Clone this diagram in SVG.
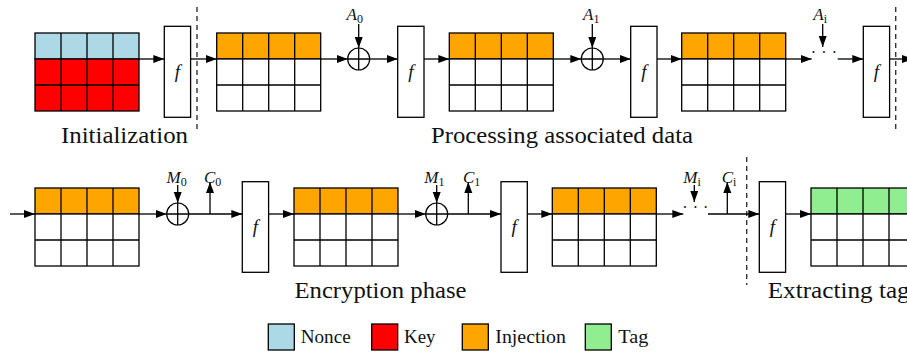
<svg xmlns="http://www.w3.org/2000/svg" width="907" height="356" viewBox="0 0 907 356">
<style>
.cell{stroke:#000;stroke-width:1.3}
.ln{stroke:#000;stroke-width:1.3;fill:none}
.fbox{fill:#fff;stroke:#000;stroke-width:1.3}
.xor{fill:#fff;stroke:#000;stroke-width:1.2}
.conn{stroke:#000;stroke-width:1.3;fill:none}
.dash{stroke:#333;stroke-width:1.4;stroke-dasharray:5,4;fill:none}
.nonce{fill:#ADD8E6}.key{fill:#FF0000}.inj{fill:#FFA500}.tag{fill:#90EE90}.wh{fill:#fff}
text{font-family:'Liberation Serif',serif;fill:#111}
.big{font-size:23px}
.lg{font-size:19px}
.f{font-size:19px;font-style:italic;text-anchor:middle}
.var{font-size:17px}
.sub{font-size:12px;font-style:normal}
.dots{font-size:16px;text-anchor:middle}
</style>
<defs>
<marker id="arr" markerUnits="userSpaceOnUse" markerWidth="12" markerHeight="9" refX="11" refY="4" orient="auto">
<path d="M0,0 L11,4 L0,8 z" fill="#000"/>
</marker>
</defs>

<g id="separators">
<line class="dash" x1="197" y1="7" x2="197" y2="130"/>
<line class="dash" x1="895.7" y1="7" x2="895.7" y2="130"/>
<line class="dash" x1="746.7" y1="157" x2="746.7" y2="285"/>
</g>

<g id="connectors">
<line class="conn" x1="139" y1="59" x2="164.3" y2="59" marker-end="url(#arr)"/>
<line class="conn" x1="190.7" y1="59" x2="216.7" y2="59" marker-end="url(#arr)"/>
<line class="conn" x1="320.7" y1="59" x2="347.7" y2="59" marker-end="url(#arr)"/>
<line class="conn" x1="369.7" y1="59" x2="397.7" y2="59" marker-end="url(#arr)"/>
<line class="conn" x1="424" y1="59" x2="449.3" y2="59" marker-end="url(#arr)"/>
<line class="conn" x1="553.3" y1="59" x2="581.3" y2="59" marker-end="url(#arr)"/>
<line class="conn" x1="603.3" y1="59" x2="630.7" y2="59" marker-end="url(#arr)"/>
<line class="conn" x1="657" y1="59" x2="681.7" y2="59" marker-end="url(#arr)"/>
<line class="conn" x1="785.7" y1="59" x2="811.7" y2="59" marker-end="url(#arr)"/>
<line class="conn" x1="837.7" y1="59" x2="863.3" y2="59" marker-end="url(#arr)"/>
<line class="conn" x1="889.6" y1="59" x2="913" y2="59" marker-end="url(#arr)"/>
<line class="conn" x1="358.7" y1="24" x2="358.7" y2="48" marker-end="url(#arr)"/>
<line class="conn" x1="592.3" y1="24" x2="592.3" y2="48" marker-end="url(#arr)"/>
<line class="conn" x1="822.7" y1="24" x2="822.7" y2="47" marker-end="url(#arr)"/>
<line class="conn" x1="10" y1="214" x2="35" y2="214" marker-end="url(#arr)"/>
<line class="conn" x1="139" y1="214" x2="166.7" y2="214" marker-end="url(#arr)"/>
<line class="conn" x1="188.7" y1="214" x2="242.3" y2="214" marker-end="url(#arr)"/>
<line class="conn" x1="268.6" y1="214" x2="294" y2="214" marker-end="url(#arr)"/>
<line class="conn" x1="398" y1="214" x2="425.7" y2="214" marker-end="url(#arr)"/>
<line class="conn" x1="447.7" y1="214" x2="501" y2="214" marker-end="url(#arr)"/>
<line class="conn" x1="527.3" y1="214" x2="552.3" y2="214" marker-end="url(#arr)"/>
<line class="conn" x1="656.3" y1="214" x2="683.3" y2="214" marker-end="url(#arr)"/>
<line class="conn" x1="708" y1="214" x2="759.3" y2="214" marker-end="url(#arr)"/>
<line class="conn" x1="785.7" y1="214" x2="811" y2="214" marker-end="url(#arr)"/>
<line class="conn" x1="177.7" y1="185" x2="177.7" y2="203" marker-end="url(#arr)"/>
<line class="conn" x1="436.7" y1="185" x2="436.7" y2="203" marker-end="url(#arr)"/>
<line class="conn" x1="694.3" y1="185" x2="694.3" y2="202" marker-end="url(#arr)"/>
<line class="conn" x1="210" y1="214" x2="210" y2="182" marker-end="url(#arr)"/>
<line class="conn" x1="468.3" y1="214" x2="468.3" y2="182" marker-end="url(#arr)"/>
<line class="conn" x1="727.3" y1="214" x2="727.3" y2="182" marker-end="url(#arr)"/>
</g>

<g id="state-init">
<rect class="cell nonce" x="35" y="33" width="104" height="26"/>
<rect class="cell key" x="35" y="59" width="104" height="52"/>
<path class="ln" d="M61,33V111M87,33V111M113,33V111M35,85H139"/>
</g>
<g id="state-a0">
<rect class="cell inj" x="216.7" y="33" width="104" height="26"/>
<rect class="cell wh" x="216.7" y="59" width="104" height="52"/>
<path class="ln" d="M242.7,33V111M268.7,33V111M294.7,33V111M216.7,85H320.7"/>
</g>
<g id="state-a1">
<rect class="cell inj" x="449.3" y="33" width="104" height="26"/>
<rect class="cell wh" x="449.3" y="59" width="104" height="52"/>
<path class="ln" d="M475.3,33V111M501.3,33V111M527.3,33V111M449.3,85H553.3"/>
</g>
<g id="state-a2">
<rect class="cell inj" x="681.7" y="33" width="104" height="26"/>
<rect class="cell wh" x="681.7" y="59" width="104" height="52"/>
<path class="ln" d="M707.7,33V111M733.7,33V111M759.7,33V111M681.7,85H785.7"/>
</g>

<g id="f-top-1"><rect class="fbox" x="164.3" y="26.3" width="26.3" height="91"/><text class="f" x="177.5" y="78">f</text></g>
<g id="f-top-2"><rect class="fbox" x="397.7" y="26.3" width="26.3" height="91"/><text class="f" x="410.8" y="78">f</text></g>
<g id="f-top-3"><rect class="fbox" x="630.7" y="26.3" width="26.3" height="91"/><text class="f" x="643.8" y="78">f</text></g>
<g id="f-top-4"><rect class="fbox" x="863.3" y="26.3" width="26.3" height="91"/><text class="f" x="876.4" y="78">f</text></g>

<g id="xor-a0"><circle class="xor" cx="358.7" cy="59" r="11"/><path class="ln" stroke-width="1" d="M347.7,59H369.7M358.7,48V70"/></g>
<g id="xor-a1"><circle class="xor" cx="592.3" cy="59" r="11"/><path class="ln" stroke-width="1" d="M581.3,59H603.3M592.3,48V70"/></g>
<g id="dots-a"><text class="dots" x="813.3 824 834.5" y="58">···</text></g>

<g id="labels-top">
<text class="var" x="346.5" y="19.5"><tspan font-style="italic">A</tspan><tspan class="sub" dy="3.5">0</tspan></text>
<text class="var" x="583" y="19.5"><tspan font-style="italic">A</tspan><tspan class="sub" dy="3.5">1</tspan></text>
<text class="var" x="813.3" y="19.5"><tspan font-style="italic">A</tspan><tspan class="sub" dy="3.5" font-style="italic">i</tspan></text>
<text class="big" x="61" y="143" textLength="127" lengthAdjust="spacingAndGlyphs">Initialization</text>
<text class="big" x="431" y="143" textLength="262" lengthAdjust="spacingAndGlyphs" font-family="DejaVu Serif">Processing associated data</text>
</g>

<g id="state-m0">
<rect class="cell inj" x="35" y="188" width="104" height="26"/>
<rect class="cell wh" x="35" y="214" width="104" height="52"/>
<path class="ln" d="M61,188V266M87,188V266M113,188V266M35,240H139"/>
</g>
<g id="state-m1">
<rect class="cell inj" x="294" y="188" width="104" height="26"/>
<rect class="cell wh" x="294" y="214" width="104" height="52"/>
<path class="ln" d="M320,188V266M346,188V266M372,188V266M294,240H398"/>
</g>
<g id="state-m2">
<rect class="cell inj" x="552.3" y="188" width="104" height="26"/>
<rect class="cell wh" x="552.3" y="214" width="104" height="52"/>
<path class="ln" d="M578.3,188V266M604.3,188V266M630.3,188V266M552.3,240H656.3"/>
</g>
<g id="state-tag">
<rect class="cell tag" x="811" y="188" width="104" height="26"/>
<rect class="cell wh" x="811" y="214" width="104" height="52"/>
<path class="ln" d="M837,188V266M863,188V266M889,188V266M811,240H915"/>
</g>

<g id="f-bot-1"><rect class="fbox" x="242.3" y="181.7" width="26.3" height="90.6"/><text class="f" x="255.4" y="233">f</text></g>
<g id="f-bot-2"><rect class="fbox" x="501" y="181.7" width="26.3" height="90.6"/><text class="f" x="514.1" y="233">f</text></g>
<g id="f-bot-3"><rect class="fbox" x="759.3" y="181.7" width="26.3" height="90.6"/><text class="f" x="772.4" y="233">f</text></g>

<g id="xor-m0"><circle class="xor" cx="177.7" cy="214" r="11"/><path class="ln" stroke-width="1" d="M166.7,214H188.7M177.7,203V225"/></g>
<g id="xor-m1"><circle class="xor" cx="436.7" cy="214" r="11"/><path class="ln" stroke-width="1" d="M425.7,214H447.7M436.7,203V225"/></g>
<g id="dots-m"><text class="dots" x="685 695.3 705.7" y="213">···</text></g>

<g id="labels-bottom">
<text class="var" x="166.5" y="182.5"><tspan font-style="italic">M</tspan><tspan class="sub" dy="3.5">0</tspan></text>
<text class="var" x="204" y="182.5"><tspan font-style="italic">C</tspan><tspan class="sub" dy="3.5">0</tspan></text>
<text class="var" x="424.3" y="182.5"><tspan font-style="italic">M</tspan><tspan class="sub" dy="3.5">1</tspan></text>
<text class="var" x="463" y="182.5"><tspan font-style="italic">C</tspan><tspan class="sub" dy="3.5">1</tspan></text>
<text class="var" x="683.3" y="182.5"><tspan font-style="italic">M</tspan><tspan class="sub" dy="3.5" font-style="italic">i</tspan></text>
<text class="var" x="721.7" y="182.5"><tspan font-style="italic">C</tspan><tspan class="sub" dy="3.5" font-style="italic">i</tspan></text>
<text class="big" x="294.5" y="298" textLength="172" lengthAdjust="spacingAndGlyphs">Encryption phase</text>
<text class="big" x="767.7" y="298" textLength="142" lengthAdjust="spacingAndGlyphs">Extracting tag</text>
</g>

<g id="legend">
<rect class="cell nonce" x="268.3" y="324" width="26" height="26"/>
<text class="lg" x="300.7" y="343" textLength="50" lengthAdjust="spacingAndGlyphs">Nonce</text>
<rect class="cell key" x="371.7" y="324" width="26" height="26"/>
<text class="lg" x="404" y="343" textLength="31.5" lengthAdjust="spacingAndGlyphs">Key</text>
<rect class="cell inj" x="462.3" y="324" width="26" height="26"/>
<text class="lg" x="495.3" y="343" textLength="70.5" lengthAdjust="spacingAndGlyphs">Injection</text>
<rect class="cell tag" x="585.3" y="324" width="26" height="26"/>
<text class="lg" x="618.3" y="343" textLength="30" lengthAdjust="spacingAndGlyphs">Tag</text>
</g>
</svg>
